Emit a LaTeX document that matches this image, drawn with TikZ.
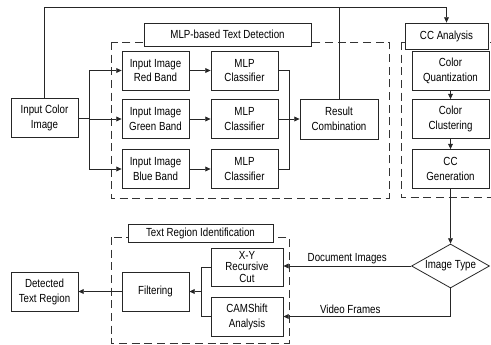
\documentclass[tikz,border=0pt]{standalone}
\usepackage{fontspec}
\setmainfont{Liberation Sans}[FakeStretch=0.83]
\usepackage{tikz}
\usetikzlibrary{arrows.meta,shapes.geometric}

\tikzset{
  blk/.style={draw=black!85, fill=white, align=center, inner sep=0.75pt, line width=0.6pt,
    minimum width=50.25pt, minimum height=29.25pt, font=\fontsize{8.8}{11.2}\selectfont},
  ttl/.style={draw=black!85, fill=white, inner sep=0.75pt, line width=0.6pt, font=\fontsize{8.8}{10}\selectfont},
  grp/.style={draw=black!80, line width=0.6pt, dash pattern=on 6pt off 3.5pt},
  wire/.style={draw=black!85, line width=0.6pt},
  arr/.style={wire, -{Triangle[length=4pt,width=3.6pt]}},
  lbl/.style={font=\fontsize{8.8}{10}\selectfont, inner sep=1.5pt},
}

\begin{document}
\begin{tikzpicture}[x=0.75pt,y=0.75pt,yscale=-1,xscale=1]
\useasboundingbox (0,0) rectangle (491,345);

%Dashed groups
\draw [grp] (111,42) rectangle (389,198);
\draw [grp] (401,42) rectangle (497,197);
\draw [grp] (111,237) rectangle (289,343);

%Group titles
\node [ttl, minimum width=125.25pt, minimum height=17.25pt] (tmlp) at (227.5,34.5) {MLP-based Text Detection};
\node [ttl, minimum width=62.25pt, minimum height=19.5pt] (cca) at (446.5,36) {CC Analysis};
\node [ttl, minimum width=108.75pt, minimum height=13.5pt] (ttri) at (200.5,233) {Text Region Identification};

%Boxes
\node [blk] (in) at (44.5,118) {Input Color\\Image};
\node [blk] (red) at (155.5,70.5) {Input Image\\Red Band};
\node [blk] (green) at (155.5,119) {Input Image\\Green Band};
\node [blk] (blue) at (155.5,169) {Input Image\\Blue Band};
\node [blk] (mlpA) at (244.5,70.5) {MLP\\Classifier};
\node [blk] (mlpB) at (244.5,119) {MLP\\Classifier};
\node [blk] (mlpC) at (244.5,169) {MLP\\Classifier};
\node [blk, minimum width=58.5pt, minimum height=30pt] (res) at (339,119) {Result\\Combination};
\node [blk, minimum width=57.75pt] (cq) at (450.5,70.5) {Color\\Quantization};
\node [blk, minimum width=57.75pt] (cl) at (450.5,119) {Color\\Clustering};
\node [blk, minimum width=57.75pt] (cg) at (450.5,169) {CC\\Generation};
\node [blk, shape=diamond, aspect=1.8, inner sep=0pt, minimum width=58.5pt, minimum height=33pt] (typ) at (450.5,266) {Image Type};
\node [blk, minimum width=54pt, minimum height=28.5pt, font=\fontsize{8.8}{8.4}\selectfont] (xy) at (247,267) {X-Y\\Recursive\\Cut};
\node [blk, minimum width=54pt] (cam) at (247,316.5) {CAMShift\\Analysis};
\node [blk] (flt) at (155.5,291.5) {Filtering};
\node [blk] (det) at (44.5,291.5) {Detected\\Text Region};

%Joints
\coordinate (sp) at (89,118);
\coordinate (mg) at (289,119);
\coordinate (mg2) at (201,291.5);
\coordinate (top) at (0,7);

%Straight Lines
\draw [wire] (in.east) -- (sp);
\draw [arr] (sp) |- (red.west);
\draw [arr] (sp) |- (green.west);
\draw [arr] (sp) |- (blue.west);
\draw [arr] (red) -- (mlpA);
\draw [arr] (green) -- (mlpB);
\draw [arr] (blue) -- (mlpC);
\draw [wire] (mlpA.east) -| (mg);
\draw [wire] (mlpC.east) -| (mg);
\draw [arr] (mlpB) -- (res);
\draw [arr] (in.north) |- (top -| cca.north) -- (cca.north);
\draw [wire] (res.north) -- (res.north |- top);
\draw [arr] (cq) -- (cl);
\draw [arr] (cl) -- (cg);
\draw [arr] (cg) -- (typ);
\draw [arr] (typ.west) -- node [lbl, above] {Document Images} (typ.west -| xy.east);
\draw [arr] (typ.south) |- node [lbl, above, pos=0.8] {Video Frames} (cam.east);
\draw [wire] (xy.west) -| (mg2);
\draw [wire] (cam.west) -| (mg2);
\draw [arr] (mg2) -- (flt.east);
\draw [arr] (flt) -- (det);

\end{tikzpicture}
\end{document}
